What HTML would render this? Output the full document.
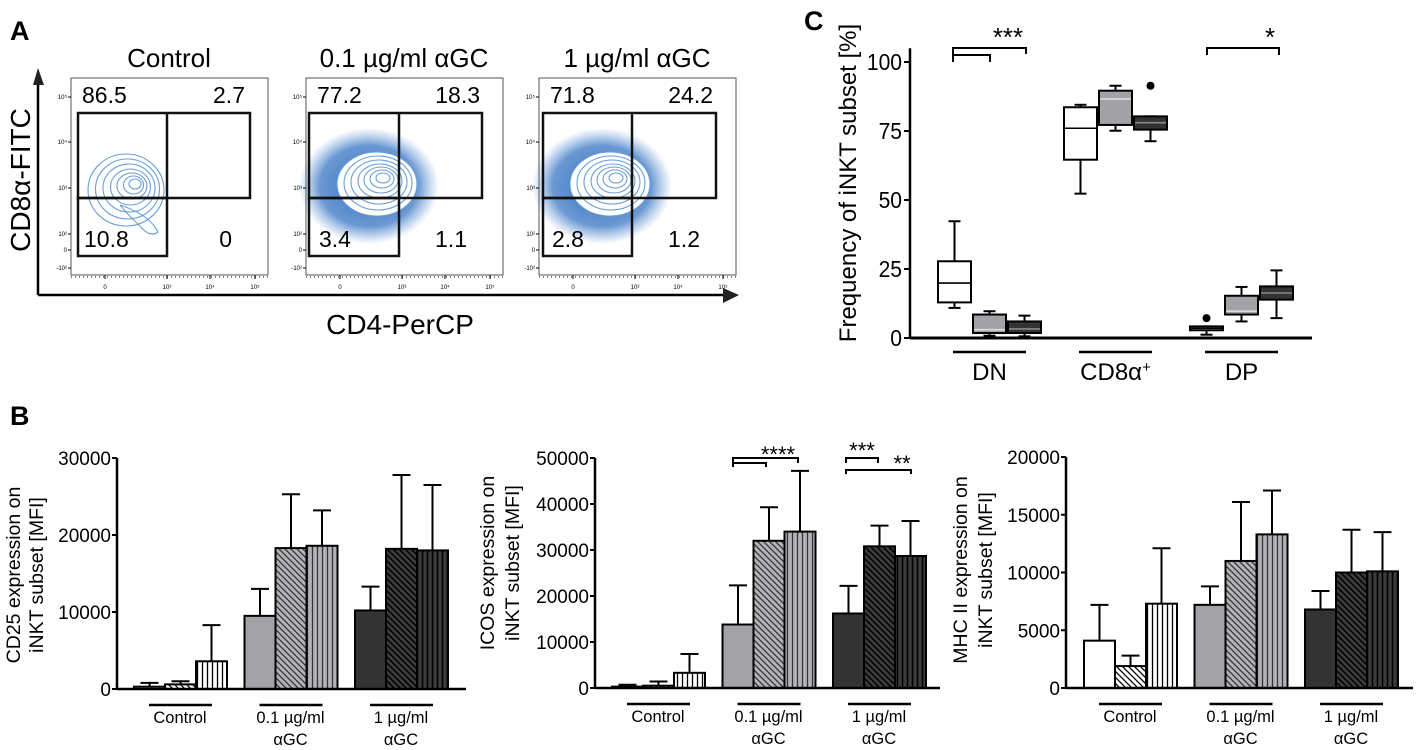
<!DOCTYPE html>
<html><head><meta charset="utf-8"><style>
html,body{margin:0;padding:0;background:#fff}
svg{display:block;font-family:"Liberation Sans",sans-serif}
</style></head><body>
<svg id="fig" width="1418" height="750" viewBox="0 0 1418 750" xmlns="http://www.w3.org/2000/svg">
<defs>
<pattern id="dW" width="6" height="6" patternUnits="userSpaceOnUse"><rect width="6" height="6" fill="#fff"/><path d="M-1,-1L7,7M-1,5L1,7M5,-1L7,1" stroke="#000" stroke-width="1.3"/></pattern>
<pattern id="vW" width="5" height="5" patternUnits="userSpaceOnUse"><rect width="5" height="5" fill="#fff"/><path d="M2.5,0V5" stroke="#000" stroke-width="1.3"/></pattern>
<pattern id="dG" width="6" height="6" patternUnits="userSpaceOnUse"><rect width="6" height="6" fill="#b4b4b8"/><path d="M-1,-1L7,7M-1,5L1,7M5,-1L7,1" stroke="#333" stroke-width="1.3"/></pattern>
<pattern id="vG" width="5" height="5" patternUnits="userSpaceOnUse"><rect width="5" height="5" fill="#b4b4b8"/><path d="M2.5,0V5" stroke="#333" stroke-width="1.3"/></pattern>
<pattern id="dD" width="6" height="6" patternUnits="userSpaceOnUse"><rect width="6" height="6" fill="#3c3c3c"/><path d="M-1,-1L7,7M-1,5L1,7M5,-1L7,1" stroke="#000" stroke-width="1.5"/></pattern>
<pattern id="vD" width="5" height="5" patternUnits="userSpaceOnUse"><rect width="5" height="5" fill="#3c3c3c"/><path d="M2.5,0V5" stroke="#000" stroke-width="1.6"/></pattern>
<radialGradient id="cloud"><stop offset="0" stop-color="#1f5fb0" stop-opacity="0.9"/><stop offset="0.7" stop-color="#2a6cc0" stop-opacity="0.7"/><stop offset="1" stop-color="#4a86d0" stop-opacity="0"/></radialGradient>
</defs>

<g>
<text x="10" y="40" font-size="27" font-weight="bold">A</text>
<line x1="38" y1="80" x2="38" y2="295" stroke="#000" stroke-width="2.5"/>
<polygon points="33,85 38,68 44,85" fill="#222"/>
<line x1="38" y1="295" x2="726" y2="295" stroke="#000" stroke-width="2.5"/>
<polygon points="723,288 739,295 723,303" fill="#222"/>
<text transform="translate(30,180) rotate(-90)" text-anchor="middle" font-size="28">CD8α-FITC</text>
<text x="400" y="334" text-anchor="middle" font-size="28">CD4-PerCP</text>
<g id="flow"></g>
</g>

<g>
<text x="804" y="30" font-size="27" font-weight="bold">C</text>
<g id="boxc"></g>
</g>

<g>
<text x="10" y="425" font-size="27" font-weight="bold">B</text>
<g id="bars"></g>
</g>
</svg>
<script>
const NS='http://www.w3.org/2000/svg';
function mk(parent,tag,attrs,text){const e=document.createElementNS(NS,tag);for(const k in attrs)e.setAttribute(k,attrs[k]);if(text!==undefined)e.textContent=text;parent.appendChild(e);return e;}

// ---------- Panel A data ----------
const flowTitles=['Control','0.1 µg/ml αGC','1 µg/ml αGC'];
const flowUL=['86.5','77.2','71.8'];
const flowUR=['2.7','18.3','24.2'];
const flowLL=['10.8','3.4','2.8'];
const flowLR=['0','1.1','1.2'];
const flowX=[71,306,539];
const gateL=[7,3,4],gateR=[179,176,177],gateS=[96,93,93];
const flow=document.getElementById('flow');
for(let i=0;i<3;i++){
  const fx=flowX[i];
  const g=mk(flow,'g',{});
  
  
  const t=mk(g,'text',{x:fx+98,y:67,'text-anchor':'middle','font-size':26},flowTitles[i]);
  
  
  mk(g,'rect',{x:fx,y:78,width:197,height:197,fill:'#fff',stroke:'#555','stroke-width':1});
  const cx=fx+(i===0?61:71), cy=i===0?182:178;
  if(i>0){
    mk(g,'ellipse',{cx:cx-8,cy:cy+8,rx:70,ry:58,fill:'url(#cloud)'});
  }
  const rings=i===0?[[38,36],[32,30],[26,24],[20,18],[15,13],[10,9],[6,5]]:[[40,32],[34,27],[28,22],[22,17],[17,13],[12,9],[7,5]];
  rings.forEach((r,k)=>{
    mk(g,'ellipse',{cx:cx+(i===0?k*1.5-6:k),cy:cy+(i===0?8-k:6-k),rx:r[0],ry:r[1],fill:i===0?'none':(k===0?'#fff':'none'),stroke:'#6a9fd6','stroke-width':1.1});
  });
  if(i===0){mk(g,'path',{d:'M120,205 Q150,215 158,232 Q150,238 140,226 Q128,215 120,205',fill:'none',stroke:'#6a9fd6','stroke-width':1.1});}
  const gl=fx+gateL[i],gr=fx+gateR[i],gs=fx+gateS[i];
  mk(g,'rect',{x:gl,y:113,width:gr-gl,height:85,fill:'none',stroke:'#111','stroke-width':2.5});
  mk(g,'rect',{x:gl,y:198,width:gs-gl,height:58,fill:'none',stroke:'#111','stroke-width':2.5});
  mk(g,'line',{x1:gs,y1:113,x2:gs,y2:198,stroke:'#111','stroke-width':2.5});
  const q=[[flowUL[i],fx+11,103,'start'],[flowUR[i],fx+174,103,'end'],[flowLL[i],fx+13,247,'start'],[flowLR[i],fx+161,247,'end']];
  q.forEach(a=>{const tt=mk(g,'text',{x:a[1],y:a[2],'font-size':23,'text-anchor':a[3]},a[0]);
    
    });
  [['10⁵',97],['10⁴',142],['10³',188],['10²',234],['0',250],['-10²',268]].forEach(a=>{
    mk(g,'text',{x:fx-4,y:a[1]+2,'font-size':6,'text-anchor':'end'},a[0]);
    mk(g,'line',{x1:fx-3,y1:a[1],x2:fx,y2:a[1],stroke:'#000','stroke-width':1});});
  [['0',34],['10³',96],['10⁴',139],['10⁵',184]].forEach(a=>{
    mk(g,'text',{x:fx+a[1],y:289,'font-size':6,'text-anchor':'middle'},a[0]);
    mk(g,'line',{x1:fx+a[1],y1:275,x2:fx+a[1],y2:279,stroke:'#000','stroke-width':1});});
  mk(g,'line',{x1:fx,y1:277,x2:fx+197,y2:277,stroke:'#000','stroke-width':1,'stroke-dasharray':'1 3'});
}

// ---------- Panel C data ----------
const cGroups=['DN','CD8α','DP'];
const cWhiskLo=[[10.9,0.8,0.6],[52.3,75.1,71.3],[1.2,6.0,7.2]];
const cQ1=[[12.9,1.8,1.8],[64.6,77.2,75.5],[2.8,8.5,13.9]];
const cMed=[[19.9,3.0,3.3],[76.0,86.6,78.0],[3.5,9.7,16.3]];
const cQ3=[[27.8,8.5,6.0],[83.6,89.6,80.3],[4.2,15.3,18.7]];
const cWhiskHi=[[42.3,9.7,8.1],[84.5,91.4,80.3],[4.2,18.5,24.5]];
const cOutliers=[[null,null,null],[null,null,91.4],[7.2,null,null]];
const cTicks=[0,25,50,75,100];
const boxc=document.getElementById('boxc');
const cy0=338,cyk=2.76;
function yC(v){return cy0-v*cyk;}
const cGroupX=[937,1063,1189],cBoxW=35;
const cFill=['#fff','#a2a2a6','#333'],cMedCol=['#000','#ddd','#888'];
const yaxC=mk(boxc,'line',{x1:910,y1:yC(105),x2:910,y2:cy0,stroke:'#000','stroke-width':2.5});


cTicks.forEach(v=>{mk(boxc,'line',{x1:904,y1:yC(v),x2:910,y2:yC(v),stroke:'#000','stroke-width':2});
  const t=mk(boxc,'text',{x:902,y:yC(v)+8,'font-size':23,'text-anchor':'end',textLength:String(v).length*11.7,lengthAdjust:'spacingAndGlyphs'},String(v));
  
  });
const ttl=mk(boxc,'text',{transform:'translate(856,183) rotate(-90)','font-size':24,'text-anchor':'middle'},'Frequency of iNKT subset [%]');


for(let gi=0;gi<3;gi++){for(let b=0;b<3;b++){
  const x=cGroupX[gi]+b*cBoxW,cxm=x+cBoxW/2;
  const bg=mk(boxc,'g',{});
  
  
  const st={stroke:'#000','stroke-width':2};
  mk(bg,'line',Object.assign({x1:cxm,y1:yC(cWhiskHi[gi][b]),x2:cxm,y2:yC(cWhiskLo[gi][b])},st));
  mk(bg,'line',Object.assign({x1:cxm-6,y1:yC(cWhiskHi[gi][b]),x2:cxm+6,y2:yC(cWhiskHi[gi][b])},st));
  mk(bg,'line',Object.assign({x1:cxm-6,y1:yC(cWhiskLo[gi][b]),x2:cxm+6,y2:yC(cWhiskLo[gi][b])},st));
  mk(bg,'rect',{x:x+1,y:yC(cQ3[gi][b]),width:cBoxW-2,height:Math.max(2,yC(cQ1[gi][b])-yC(cQ3[gi][b])),fill:cFill[b],stroke:'#000','stroke-width':2});
  mk(bg,'line',{x1:x+2,y1:yC(cMed[gi][b]),x2:x+cBoxW-2,y2:yC(cMed[gi][b]),stroke:cMedCol[b],'stroke-width':1.6});
  if(cOutliers[gi][b]!==null)mk(bg,'circle',{cx:cxm,cy:yC(cOutliers[gi][b]),r:4,fill:'#000'});
}}
mk(boxc,'line',{x1:910,y1:cy0,x2:1312,y2:cy0,stroke:'#000','stroke-width':3});
cGroups.forEach((nm,gi)=>{
  const x0=cGroupX[gi]+16,x1=x0+73;
  mk(boxc,'line',{x1:x0,y1:352,x2:x1,y2:352,stroke:'#000','stroke-width':2.5});
  const t=mk(boxc,'text',{x:(x0+x1)/2,y:380,'font-size':24,'text-anchor':'middle'},nm);
  if(gi===1){mk(t,'tspan',{'baseline-shift':'super','font-size':15},'+');}
  
  
});
mk(boxc,'path',{d:'M953,62V48H1026V54',fill:'none',stroke:'#000','stroke-width':2});
mk(boxc,'path',{d:'M953,55H990V62',fill:'none',stroke:'#000','stroke-width':2});
mk(boxc,'text',{x:1008,y:46,'font-size':26,'text-anchor':'middle'},'***');
mk(boxc,'path',{d:'M1207,55V48H1279V55',fill:'none',stroke:'#000','stroke-width':2});
mk(boxc,'text',{x:1270,y:46,'font-size':26,'text-anchor':'middle'},'*');

// ---------- Panel B data ----------
const bGroups=['Control','0.1 µg/ml','1 µg/ml'];
const cd25Mean=[[300,600,3600],[9500,18300,18600],[10200,18200,18000]];
const cd25Err=[[800,1000,8300],[13000,25300,23200],[13300,27800,26500]];
const cd25Ticks=[0,10000,20000,30000];
const icosMean=[[300,500,3300],[13800,32000,34000],[16200,30800,28700]];
const icosErr=[[700,1400,7400],[22300,39300,47200],[22200,35300,36300]];
const icosTicks=[0,10000,20000,30000,40000,50000];
const mhcMean=[[4100,1900,7300],[7200,11000,13300],[6800,10000,10100]];
const mhcErr=[[7200,2800,12100],[8800,16100,17100],[8400,13700,13500]];
const mhcTicks=[0,5000,10000,15000,20000];

const fills=[['#fff','url(#dW)','url(#vW)'],['#a3a3a7','url(#dG)','url(#vG)'],['#333','url(#dD)','url(#vD)']];
const bars=document.getElementById('bars');
function barChart(cfg){
  const g=mk(bars,'g',{});
  
  
  const max=cfg.ticks[cfg.ticks.length-1];
  const y=v=>cfg.y0-(v/max)*(cfg.y0-cfg.top);
  const ax=mk(g,'line',{x1:cfg.x0,y1:cfg.top,x2:cfg.x0,y2:cfg.y0,stroke:'#000','stroke-width':2.5});
  
  
  cfg.ticks.forEach(v=>{mk(g,'line',{x1:cfg.x0-5,y1:y(v),x2:cfg.x0,y2:y(v),stroke:'#000','stroke-width':2});
    const t=mk(g,'text',{x:cfg.x0-6,y:y(v)+7,'font-size':19,'text-anchor':'end'},String(v));
    
    });
  const tl=mk(g,'text',{transform:'translate('+cfg.tx+','+cfg.ty+') rotate(-90)','font-size':19.5,'text-anchor':'middle'});
  
  
  mk(tl,'tspan',{x:0,y:0},cfg.title[0]);
  mk(tl,'tspan',{x:0,dy:cfg.tdy},cfg.title[1]);
  for(let gi=0;gi<3;gi++){for(let b=0;b<3;b++){
    const x=cfg.gx+gi*110.5+b*31,cxm=x+15.5;
    const m=cfg.mean[gi][b],e=cfg.err[gi][b];
    mk(g,'line',{x1:cxm,y1:y(e),x2:cxm,y2:y(m),stroke:'#000','stroke-width':2});
    mk(g,'line',{x1:cxm-9,y1:y(e),x2:cxm+9,y2:y(e),stroke:'#000','stroke-width':2});
    const r=mk(g,'rect',{x:x,y:y(m),width:31,height:Math.max(1,cfg.y0-y(m)),fill:fills[gi][b],stroke:'#000','stroke-width':2});
    
    
  }
    const u0=cfg.gx+gi*110.5+15;
    mk(g,'line',{x1:u0,y1:cfg.y0+16,x2:u0+63,y2:cfg.y0+16,stroke:'#000','stroke-width':2.5});
    const lb=mk(g,'text',{x:u0+31,y:cfg.y0+34,'font-size':16.5,'text-anchor':'middle'},bGroups[gi]);
    
    
    if(gi>0){mk(g,'text',{x:u0+31,y:cfg.y0+56,'font-size':16.5,'text-anchor':'middle'},'αGC');}
  }
  mk(g,'line',{x1:cfg.x0,y1:cfg.y0,x2:cfg.xe,y2:cfg.y0,stroke:'#000','stroke-width':2.5});
  return g;
}
barChart({name:'cd25-chart',x0:117,y0:689,top:458,xe:466,gx:134,ticks:cd25Ticks,mean:cd25Mean,err:cd25Err,title:['CD25 expression on','iNKT subset [MFI]'],tx:20,ty:575,tdy:23});
const ic=barChart({name:'icos-chart',x0:595,y0:688,top:458,xe:940,gx:612,ticks:icosTicks,mean:icosMean,err:icosErr,title:['ICOS expression on','iNKT subset [MFI]'],tx:494,ty:563,tdy:25});
barChart({name:'mhc-chart',x0:1066,y0:688,top:457,xe:1413,gx:1084,ticks:mhcTicks,mean:mhcMean,err:mhcErr,title:['MHC II expression on','iNKT subset [MFI]'],tx:967,ty:570,tdy:25});
mk(ic,'path',{d:'M733,467V458H798V463',fill:'none',stroke:'#000','stroke-width':2});
mk(ic,'path',{d:'M733,463H766V467',fill:'none',stroke:'#000','stroke-width':2});
mk(ic,'text',{x:778,y:462,'font-size':22,'text-anchor':'middle'},'****');
mk(ic,'path',{d:'M846,463V458H878V463',fill:'none',stroke:'#000','stroke-width':2});
mk(ic,'text',{x:862,y:458,'font-size':22,'text-anchor':'middle'},'***');
mk(ic,'path',{d:'M846,474V470H911V474',fill:'none',stroke:'#000','stroke-width':2});
mk(ic,'text',{x:902,y:471,'font-size':22,'text-anchor':'middle'},'**');
</script>
</body></html>
